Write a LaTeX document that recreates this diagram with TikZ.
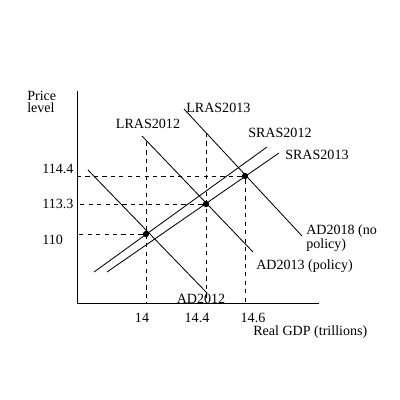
\documentclass[tikz,border=0pt]{standalone}
\usepackage{tikz}
\usetikzlibrary{positioning}
\usepackage{fontspec}
\setmainfont{Liberation Serif}

\begin{document}
\begin{tikzpicture}[x=0.025cm, y=-0.025cm,
    curve/.style={black, line width=0.6pt},
    guide/.style={black, dashed, line width=0.6pt},
    label/.style={inner sep=0pt, font=\fontsize{10}{8.5}\selectfont, align=left},
    eqpoint/.style={circle, fill=black, inner sep=0pt, minimum size=4.5pt}
]
\useasboundingbox (0,0) rectangle (400,400);

% Axes
\coordinate (origin) at (77,303);
\coordinate (ytop) at (77,91);
\coordinate (xend) at (319,303);
\draw[curve] (ytop) -- (origin) -- (xend);

% Equilibrium points
\node[eqpoint] (eq2012) at (146,234) {};
\node[eqpoint] (eq2013) at (206,204) {};
\node[eqpoint] (eq2018) at (245,176) {};

% Long-run supply
\coordinate (lras12top) at (146,142);
\coordinate (lras12bot) at (146,303);
\coordinate (lras13top) at (206,133);
\coordinate (lras13bot) at (206,303);
\coordinate (gdp146) at (245,303);
\draw[guide] (lras12top) -- (lras12bot);
\draw[guide] (lras13top) -- (lras13bot);
\draw[guide] (eq2018) -- (gdp146);

% Price guides
\draw[guide] (eq2018) -- (77,176);
\draw[guide] (eq2013) -- (77,204);
\draw[guide] (eq2012) -- (77,234);

% Demand curves
\coordinate (ad12a) at (88,170);
\coordinate (ad12b) at (207,293);
\coordinate (ad13a) at (142,136);
\coordinate (ad13b) at (253,252);
\coordinate (ad18a) at (184,109);
\coordinate (ad18b) at (302,236);
\draw[curve] (ad12a) -- (ad12b);
\draw[curve] (ad13a) -- (ad13b);
\draw[curve] (ad18a) -- (ad18b);

% Short-run supply
\coordinate (sras12a) at (94,272);
\coordinate (sras12b) at (267,147);
\coordinate (sras13a) at (107,272);
\coordinate (sras13b) at (279,153);
\draw[curve] (sras12a) -- (sras12b);
\draw[curve] (sras13a) -- (sras13b);

% Axis labels
\node[label, anchor=north west] (ylabel) at (27,91) {Price\\level};
\node[label, anchor=west] (xlabel) at (253,332) {Real GDP (trillions)};
\node[label, anchor=west] (p1144) at (42,169) {114.4};
\node[label, anchor=west] (p1133) at (42,204) {113.3};
\node[label, anchor=west] (p110) at (42,240) {110};
\node[label] (q14) at (142,318) {14};
\node[label] (q144) at (197,318) {14.4};
\node[label] (q146) at (253,318) {14.6};

% Curve labels
\node[label] (lras12lbl) at (148,124) {LRAS2012};
\node[label, anchor=west] (lras13lbl) at (186,108) {LRAS2013};
\node[label, anchor=west] (sras12lbl) at (248,133) {SRAS2012};
\node[label, anchor=west] (sras13lbl) at (285,155) {SRAS2013};
\node[label, anchor=west] (ad18lbl) at (306,238) {AD2018 (no\\policy)};
\node[label, anchor=west] (ad13lbl) at (256,266) {AD2013 (policy)};
\node[label] (ad12lbl) at (201,299) {AD2012};

\end{tikzpicture}
\end{document}
